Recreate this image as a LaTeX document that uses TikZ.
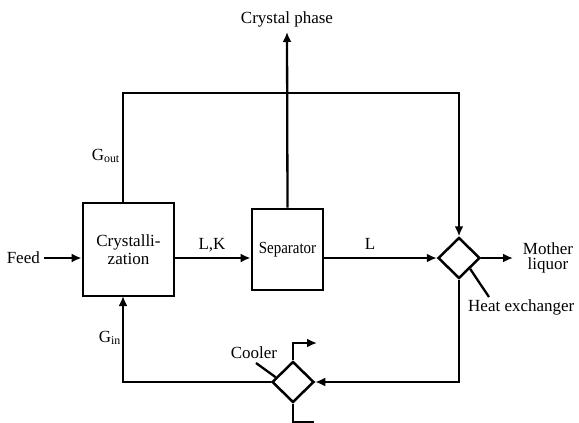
\documentclass[tikz,border=0pt]{standalone}
\usepackage{fontspec}
\setmainfont{Liberation Serif}
\usetikzlibrary{shapes.geometric,arrows.meta,calc}
\begin{document}
\begin{tikzpicture}[x=1pt,y=-1pt,
  font=\fontsize{17}{18.5}\selectfont,
  box/.style={draw,line width=2.8pt,inner sep=0pt,align=center},
  dia/.style={draw,diamond,line width=2.5pt,minimum width=42pt,minimum height=41pt,inner sep=0pt},
  ln/.style={line width=2.3pt},
  arr/.style={ln,-{Latex[length=10pt,width=9pt]}},
  lbl/.style={inner sep=1pt}]
\useasboundingbox (0,0) rectangle (579,423);
% boxes
\node[box,minimum width=91pt,minimum height=93pt] (cryst) at (128.5,249.5) {Crystalli-\\[-1pt]zation};
\node[box,minimum width=71pt,minimum height=81pt] (sep) at (287.5,249.5) {\scalebox{0.88}[1]{Separator}};
\node[dia] (hx) at (459,258) {};
\node[dia] (cool) at (293,382) {};
% texts
\node[lbl,anchor=east] (feed) at (41,258) {Feed};
\node[lbl] (crystal) at (287,19) {Crystal phase};
\node[lbl,align=center] (mother) at (548,258) {Mother\\[-3pt]liquor};
\node[lbl,anchor=west] (hxt) at (467,307) {Heat exchanger};
\node[lbl] (coolt) at (254,353) {Cooler};
\node[lbl] (lk) at (212,245) {L,K};
\node[lbl] (l) at (370,244) {L};
\node[lbl,anchor=east] (gout) at (121,156) {G\textsubscript{out}};
\node[lbl,anchor=east] (gin) at (122,338) {G\textsubscript{in}};
% coordinates
\coordinate (ctop) at (123,203);
\coordinate (cbot) at (123,296);
\coordinate (tl) at (123,93);
\coordinate (tr) at (459,93);
\coordinate (cp) at (287,32);
\coordinate (br) at (459,382);
\coordinate (bl) at (123,382);
\coordinate (mlend) at (513,258);
\coordinate (hxl) at (489,297);
\coordinate (cll) at (256,363);
\coordinate (co1) at (293,343);
\coordinate (co2) at (317,343);
\coordinate (ci1) at (293,422);
\coordinate (ci2) at (314,422);
% connectors
\draw[arr] (feed.east) ++(3,0) -- (cryst.west |- feed);
\draw[arr] (cryst.east |- feed) -- (sep.west |- feed);
\draw[arr] (sep.east |- feed) -- (hx.west);
\draw[arr] (hx.east) -- (mlend);
\draw[arr] (ctop) -- (tl) -- (tr) -- (hx.north);
\draw[arr] (sep.north) -- (cp);
\draw[arr] (hx.south) -- (br) -- (cool.east);
\draw[arr] (cool.west) -- (bl) -- (cbot);
\draw[ln] (hx.south east) -- (hxl);
\draw[ln] (cll) -- ($(cool.west)!0.22!(cool.north)$);
\draw[arr] (cool.north) -- (co1) -- (co2);
\draw[ln] (cool.south) -- (ci1) -- (ci2);
\end{tikzpicture}
\end{document}
